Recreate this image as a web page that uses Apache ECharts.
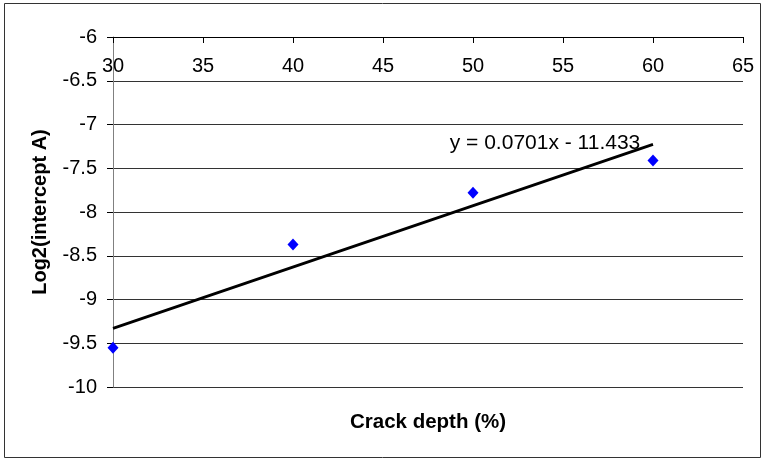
<!DOCTYPE html>
<html>
<head>
<meta charset="utf-8">
<script src="https://cdn.jsdelivr.net/npm/echarts@6/dist/echarts.min.js"></script>
<style>
  html, body { margin: 0; padding: 0; background: #fff; }
  #chart { width: 764px; height: 459px; }
</style>
</head>
<body>
<div id="chart"></div>
<script>
// measured points
var crackDepth = [30, 40, 50, 60];
var logIntercept = [-9.55, -8.37, -7.78, -7.41];

// linear trend (Excel)
var trendSlope = 0.0701;
var trendIntercept = -11.433;
var trendX = [30, 60];
var trendLabel = 'y = 0.0701x - 11.433';

var chart = echarts.init(document.getElementById('chart'));

var font = 'Liberation Sans, Arial, sans-serif';

var option = {
  animation: false,
  grid: { left: 113, right: 21, top: 37, bottom: 72, containLabel: false },
  xAxis: {
    type: 'value',
    position: 'top',
    min: 30, max: 65, interval: 5,
    axisLine: { show: true, lineStyle: { color: '#000', width: 1 } },
    axisTick: { show: true, inside: true, length: 6, lineStyle: { color: '#000' } },
    axisLabel: { inside: true, margin: 19, fontFamily: font, fontSize: 20, color: '#000' },
    splitLine: { show: false }
  },
  yAxis: {
    type: 'value',
    min: -10, max: -6, interval: 0.5,
    name: 'Log2(intercept A)',
    nameLocation: 'middle',
    nameGap: 63,
    nameRotate: 90,
    nameTextStyle: { fontFamily: font, fontSize: 20, fontWeight: 'bold', color: '#000' },
    axisLine: { show: true, lineStyle: { color: '#808080', width: 1 } },
    axisTick: { show: true, length: 6, lineStyle: { color: '#000' } },
    axisLabel: { margin: 16, fontFamily: font, fontSize: 20, color: '#000' },
    splitLine: { show: true, lineStyle: { color: '#333', width: 1 } }
  },
  graphic: [
    {
      type: 'rect',
      shape: { x: 4.5, y: 3.5, width: 756, height: 454 },
      style: { fill: null, stroke: '#333', lineWidth: 1 },
      silent: true
    },
    {
      type: 'text',
      x: 545, y: 143,
      style: { text: trendLabel, font: '21px ' + font, fill: '#000', align: 'center', verticalAlign: 'middle' },
      z: 10
    },
    {
      type: 'text',
      x: 428, y: 422,
      style: { text: 'Crack depth (%)', font: 'bold 20.5px ' + font, fill: '#000', align: 'center', verticalAlign: 'middle' }
    }
  ],
  series: [
    {
      type: 'line',
      data: trendX.map(function (x) { return [x, trendSlope * x + trendIntercept]; }),
      showSymbol: false,
      lineStyle: { color: '#000', width: 2.8 },
      z: 3
    },
    {
      type: 'scatter',
      data: crackDepth.map(function (x, i) { return [x, logIntercept[i]]; }),
      symbol: 'diamond',
      symbolSize: [11, 12],
      itemStyle: { color: '#0000ff', opacity: 1 },
      z: 4
    }
  ]
};

chart.setOption(option);
</script>
</body>
</html>
